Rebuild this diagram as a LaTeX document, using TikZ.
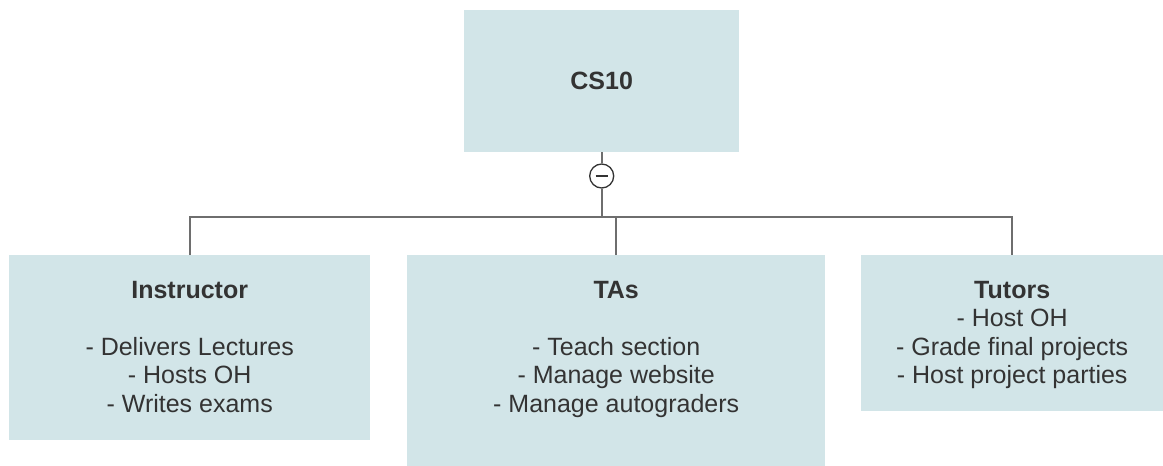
\documentclass[tikz,border=0pt]{standalone}
\usepackage{fontspec}
\setmainfont{Liberation Sans}
\definecolor{boxfill}{HTML}{D2E5E8}
\definecolor{txtcol}{HTML}{333333}
\definecolor{linecol}{HTML}{6E6E6E}
\begin{document}
\begin{tikzpicture}[x=1pt,y=-1pt,
  box/.style={fill=boxfill, draw=none, inner sep=0pt, anchor=north west},
  txt/.style={text=txtcol, inner sep=0pt, align=center, font=\fontsize{25}{28.5}\selectfont},
  conn/.style={draw=linecol, line width=1.6pt},
  collapse/.style={circle, draw=txtcol, fill=white, line width=1.3pt, minimum size=24pt, inner sep=0pt}]
\useasboundingbox (0,0) rectangle (1163,466);
\fill[white] (0,0) rectangle (1163,466);
% boxes
\node[box, minimum width=275pt, minimum height=142pt] (cs) at (464,10) {};
\node[box, minimum width=361pt, minimum height=185pt] (ins) at (9,255) {};
\node[box, minimum width=418pt, minimum height=211pt] (tas) at (407,255) {};
\node[box, minimum width=302pt, minimum height=156pt] (tut) at (861,255) {};
% texts
\node[txt, font=\fontsize{25}{28.5}\selectfont\bfseries] (cst) at (cs.center) {CS10};
\node[txt, anchor=north, yshift=-26pt] (inst) at (ins.north) {\textbf{Instructor}\\[0pt] \\ - Delivers Lectures\\ - Hosts OH\\ - Writes exams};
\node[txt, anchor=north, yshift=-26pt] (tast) at (tas.north) {\textbf{TAs}\\ \\ - Teach section\\ - Manage website\\ - Manage autograders};
\node[txt, anchor=north, yshift=-26pt] (tutt) at (tut.north) {\textbf{Tutors}\\ - Host OH\\ - Grade final projects\\ - Host project parties};
% collapse marker
\node[collapse] (col) at (601.7,176) {};
\draw[draw=txtcol, line width=1.3pt] ([xshift=-6pt]col.center) -- ([xshift=6pt]col.center);
\coordinate (bus) at (601.7,217);
% connectors
\draw[conn] (cs.south -| col.north) -- (col.north);
\draw[conn] (col.south) -- (bus);
\draw[conn] (ins.north) |- (bus) -| (tut.north);
\draw[conn] (tas.north) -- (tas.north |- bus);
\end{tikzpicture}
\end{document}
